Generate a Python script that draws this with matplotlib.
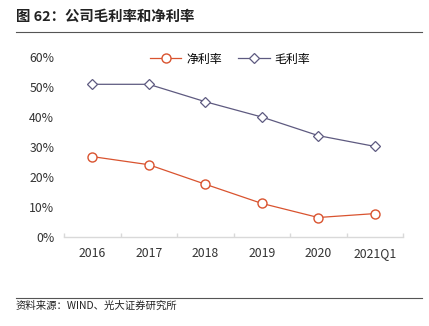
import numpy as np
import matplotlib.pyplot as plt
from matplotlib.lines import Line2D

plt.rcParams['font.family'] = ['Noto Sans CJK SC', 'DejaVu Sans']

periods = ["2016", "2017", "2018", "2019", "2020", "2021Q1"]
net_margin = [26.9, 24.2, 17.7, 11.3, 6.6, 7.9]
gross_margin = [51.0, 51.0, 45.2, 40.1, 33.9, 30.3]

NET_COLOR = "#D9532F"
GROSS_COLOR = "#5E5A80"

fig = plt.figure(figsize=(4.29, 3.26), dpi=100)

# header and footer rules
fig.text(16 / 429, 1 - 17 / 326, "图 62：公司毛利率和净利率", fontsize=10.4,
         fontweight="bold", va="center", ha="left", color="#222222")
fig.add_artist(Line2D([16 / 429, 422 / 429], [1 - 32 / 326] * 2,
                      color="#555555", lw=0.8))
fig.add_artist(Line2D([16 / 429, 422 / 429], [1 - 297.5 / 326] * 2,
                      color="#555555", lw=0.8))
fig.text(16 / 429, 1 - 306 / 326, "资料来源：WIND、光大证券研究所", fontsize=7.5,
         va="center", ha="left", color="#222222")

ax = fig.add_axes([64 / 429, 1 - 237.3 / 326, (403 - 64) / 429, (237.3 - 57.3) / 326])
x = np.arange(len(periods))

ax.plot(x, net_margin, color=NET_COLOR, lw=0.9, marker="o", ms=6.5,
        mfc="white", mec=NET_COLOR, mew=1.0, label="净利率")
ax.plot(x, gross_margin, color=GROSS_COLOR, lw=0.9, marker="D", ms=5,
        mfc="white", mec=GROSS_COLOR, mew=0.9, label="毛利率")

ax.set_xlim(-0.5, len(periods) - 0.5)
ax.set_ylim(0, 60)
ax.set_yticks(range(0, 61, 10))
ax.set_yticklabels([f"{v}%" for v in range(0, 61, 10)])
ax.set_xticks(x)
ax.set_xticklabels(periods)
ax.set_xticks(np.arange(-0.5, len(periods)), minor=True)

for side in ("top", "right", "left"):
    ax.spines[side].set_visible(False)
ax.spines["bottom"].set_color("#D9D9D9")
ax.spines["bottom"].set_linewidth(1.0)

ax.tick_params(axis="y", length=0, pad=7, labelsize=8.8, labelcolor="#333333")
ax.tick_params(axis="x", which="major", length=0, pad=7, labelsize=8.8,
               labelcolor="#333333")
ax.tick_params(axis="x", which="minor", direction="in", length=3,
               color="#D9D9D9", width=1.0)

ax.legend(loc="center", bbox_to_anchor=(0.49, 0.99), ncol=2, frameon=False,
          fontsize=8.6, handlelength=2.6, columnspacing=1.4, handletextpad=0.4)

fig.savefig("out.png", dpi=100)
